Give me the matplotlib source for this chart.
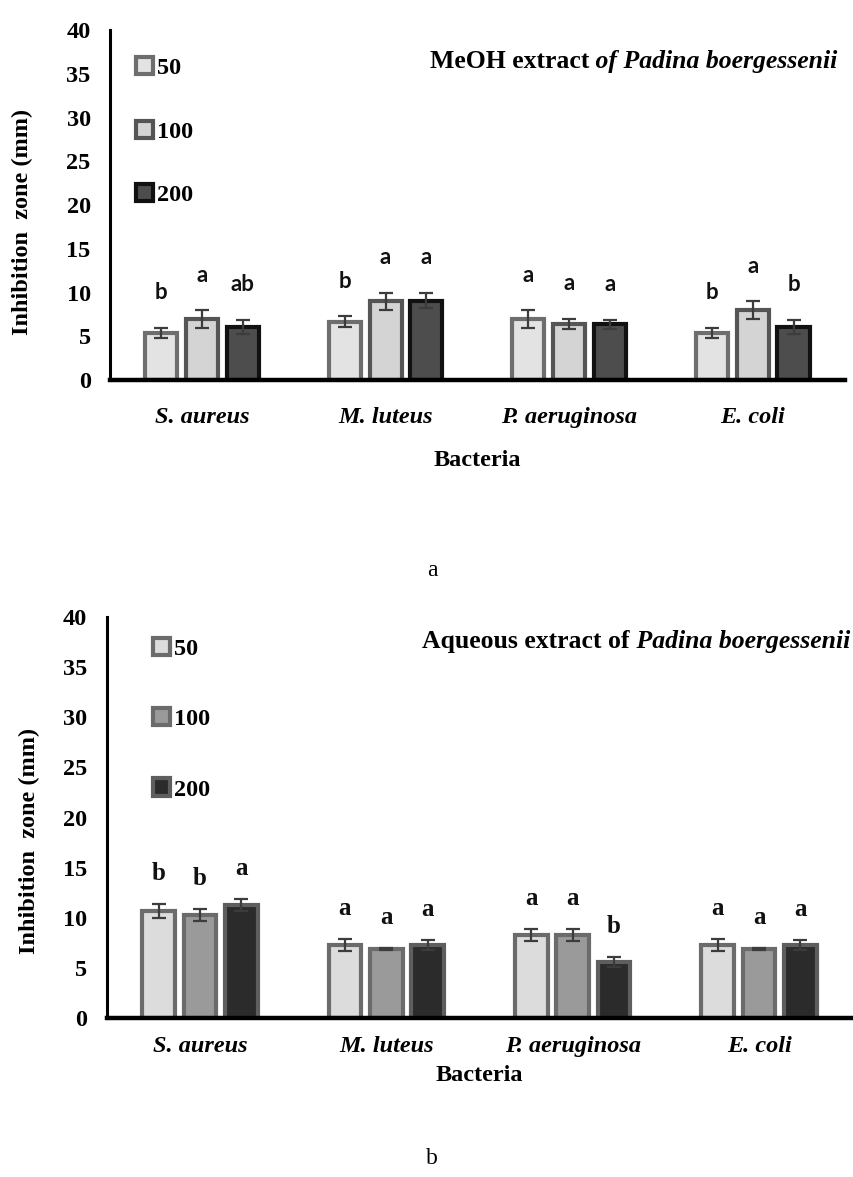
import numpy as np
import matplotlib
matplotlib.use("Agg")
import matplotlib.pyplot as plt

# ── data ──
bacteria = ["S. aureus", "M. luteus", "P. aeruginosa", "E. coli"]
doses = ["50", "100", "200"]

# MeOH extract (panel a)
meoh_50 = [5.4, 6.7, 7.0, 5.4]
meoh_100 = [7.0, 9.0, 6.4, 8.0]
meoh_200 = [6.1, 9.1, 6.4, 6.1]
meoh_err_50 = [0.6, 0.6, 1.0, 0.6]
meoh_err_100 = [1.0, 1.0, 0.6, 1.0]
meoh_err_200 = [0.8, 0.9, 0.5, 0.8]
meoh_letters_50 = ["b", "b", "a", "b"]
meoh_letters_100 = ["a", "a", "a", "a"]
meoh_letters_200 = ["ab", "a", "a", "b"]

# Aqueous extract (panel b)
aq_50 = [10.7, 7.3, 8.3, 7.3]
aq_100 = [10.3, 6.9, 8.3, 6.9]
aq_200 = [11.3, 7.3, 5.6, 7.3]
aq_err_50 = [0.7, 0.6, 0.6, 0.6]
aq_err_100 = [0.6, 0.1, 0.6, 0.1]
aq_err_200 = [0.6, 0.5, 0.5, 0.5]
aq_letters_50 = ["b", "a", "a", "a"]
aq_letters_100 = ["b", "a", "a", "a"]
aq_letters_200 = ["a", "a", "b", "a"]

SERIF = "Liberation Serif"
FS = 17.5

fig = plt.figure(figsize=(8.54, 11.77), dpi=100)


def draw_panel(ax, means, errs, letters, fills, edges, letter_font, letter_size,
               letter_off, title_a, title_b, title_x, title_y, leg_spacing,
               leg_anchor, xpad, xlabelpad, ylabel_xy):
    x = np.arange(len(bacteria))
    width = 0.175
    step = 0.222
    for i in range(3):
        pos = x + (i - 1) * step
        ax.bar(pos, means[i], width=width, color=fills[i], edgecolor=edges[i],
               linewidth=3.0, label=doses[i], zorder=2)
        ax.errorbar(pos, means[i], yerr=errs[i], fmt="none", ecolor="#3c3c3c",
                    elinewidth=1.6, capsize=5, capthick=1.6, zorder=3)
        for p, m, e, lt in zip(pos, means[i], errs[i], letters[i]):
            ax.text(p, m + e + letter_off, lt, ha="center", va="center",
                    fontsize=letter_size, fontweight="bold", family=letter_font,
                    color="#111111")

    ax.set_ylim(0, 40)
    ax.set_xlim(-0.5, 3.5)
    ax.set_yticks(range(0, 41, 5))
    ax.set_xticks(x)
    ax.set_xticklabels(bacteria, fontsize=FS, fontweight="bold", style="italic",
                       family=SERIF)
    for lab in ax.get_yticklabels():
        lab.set_fontsize(FS)
        lab.set_fontweight("bold")
        lab.set_family(SERIF)
    ax.tick_params(axis="both", length=0)
    ax.tick_params(axis="y", pad=14)
    ax.tick_params(axis="x", pad=xpad)
    ax.spines["top"].set_visible(False)
    ax.spines["right"].set_visible(False)
    ax.spines["left"].set_linewidth(2.2)
    ax.spines["bottom"].set_linewidth(3.2)
    ax.set_ylabel("Inhibition  zone (mm)", fontsize=FS, fontweight="bold",
                  family=SERIF)
    ax.yaxis.set_label_coords(*ylabel_xy)
    ax.set_xlabel("Bacteria", fontsize=FS, fontweight="bold", family=SERIF,
                  labelpad=xlabelpad)

    # title inside the plot: bold part + bold italic part
    t2 = ax.text(title_x, title_y, " " + title_b, transform=ax.transAxes,
                 ha="right", va="center", fontsize=18.5, fontweight="bold",
                 style="italic", family=SERIF)
    ax.annotate(title_a, xy=(0, 0), xycoords=t2, ha="right", va="bottom",
                fontsize=18.5, fontweight="bold", family=SERIF)

    ax.legend(loc="center left", bbox_to_anchor=leg_anchor, frameon=False,
              prop={"family": SERIF, "weight": "bold", "size": FS},
              handlelength=0.7, handleheight=0.7, handletextpad=0.15,
              labelspacing=leg_spacing, borderaxespad=0.0, borderpad=0.0)
    return ax


ax1 = fig.add_axes([0.129, 0.677, 0.860, 0.2974])
draw_panel(ax1, [meoh_50, meoh_100, meoh_200],
           [meoh_err_50, meoh_err_100, meoh_err_200],
           [meoh_letters_50, meoh_letters_100, meoh_letters_200],
           ["#e3e3e3", "#d4d4d4", "#4d4d4d"], ["#6e6e6e", "#555555", "#111111"],
           "Lato", 16, 4.0, "MeOH extract", "of Padina boergessenii",
           0.99, 0.909, 1.72, (0.035, 0.71), 19, 16, (-0.105, 0.451))

ax2 = fig.add_axes([0.125, 0.135, 0.873, 0.3407])
draw_panel(ax2, [aq_50, aq_100, aq_200],
           [aq_err_50, aq_err_100, aq_err_200],
           [aq_letters_50, aq_letters_100, aq_letters_200],
           ["#dcdcdc", "#9a9a9a", "#2b2b2b"], ["#6b6b6b", "#6b6b6b", "#5e5e5e"],
           SERIF, 18, 3.0, "Aqueous extract of", "Padina boergessenii",
           0.997, 0.938, 1.98, (0.062, 0.745), 13, 6, (-0.09, 0.441))

fig.text(432 / 854, 1 - 570 / 1177, "a", ha="center", va="center", fontsize=17,
         family=SERIF)
fig.text(432 / 854, 1 - 1158 / 1177, "b", ha="center", va="center", fontsize=17,
         family=SERIF)

plt.savefig("out.png", dpi=100)
